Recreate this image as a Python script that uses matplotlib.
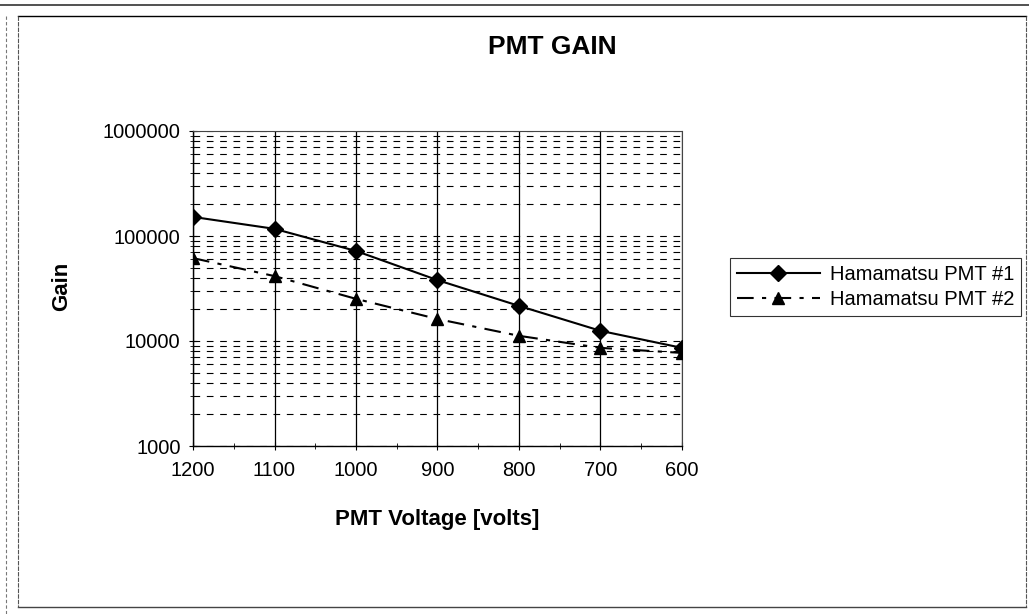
import matplotlib
matplotlib.use("Agg")
import matplotlib.pyplot as plt
from matplotlib.lines import Line2D
from matplotlib.ticker import FixedLocator, LogLocator, NullFormatter, FixedFormatter

plt.rcParams['font.family'] = ['Liberation Sans', 'DejaVu Sans']

# PMT high voltage settings and measured gain
voltage = [1200, 1100, 1000, 900, 800, 700, 600]
gain_pmt1 = [152000, 117000, 72000, 38000, 21600, 12500, 8600]
gain_pmt2 = [61600, 41500, 25200, 16200, 11200, 8600, 7700]
series_labels = ["Hamamatsu PMT #1", "Hamamatsu PMT #2"]
y_ticks = [1000, 10000, 100000, 1000000]
y_tick_labels = ["1000", "10000", "100000", "1000000"]

W, H = 1029, 614
fig = plt.figure(figsize=(W / 100, H / 100), dpi=100)


def fx(x):
    return x / W


def fy(y):
    return 1 - y / H


# outer page frame
fig.add_artist(Line2D([fx(0), fx(1029)], [fy(5), fy(5)], color='#333333', lw=1.2))
fig.add_artist(Line2D([fx(18), fx(1026)], [fy(16), fy(16)], color='black', lw=1.0))
fig.add_artist(Line2D([fx(1026), fx(1026)], [fy(16), fy(607)], color='#555555', lw=0.8, ls=(0, (4, 1))))
fig.add_artist(Line2D([fx(18), fx(1026)], [fy(607), fy(607)], color='#444444', lw=1.0))
fig.add_artist(Line2D([fx(18), fx(18)], [fy(16), fy(607)], color='#555555', lw=0.8, ls=(0, (4, 1))))
fig.add_artist(Line2D([fx(6), fx(6)], [fy(16), fy(614)], color='#777777', lw=0.8, ls=(0, (3, 2))))

ax = fig.add_axes([193 / W, 1 - 446 / H, 489 / W, 315 / H])
ax.set_yscale('log')
ax.set_xlim(1200, 600)
ax.set_ylim(1000, 1000000)

ax.plot(voltage, gain_pmt1, color='black', lw=1.5, marker='D', markersize=8,
        label=series_labels[0], zorder=5)
ax.plot(voltage, gain_pmt2, color='black', lw=1.5, ls=(0, (8, 4, 2, 4)), marker='^',
        markersize=9, label=series_labels[1], zorder=5)

# grid: solid verticals at each 100 V, dashed horizontals on every log step
ax.xaxis.set_major_locator(FixedLocator(voltage))
ax.xaxis.set_minor_locator(FixedLocator([1150, 1050, 950, 850, 750, 650]))
ax.yaxis.set_major_locator(FixedLocator(y_ticks))
ax.yaxis.set_major_formatter(FixedFormatter(y_tick_labels))
ax.yaxis.set_minor_locator(LogLocator(base=10, subs=range(2, 10)))
ax.yaxis.set_minor_formatter(NullFormatter())
ax.grid(True, axis='x', which='major', color='black', lw=0.9, ls='-')
ax.grid(True, axis='y', which='both', color='black', lw=0.8, ls=(0, (6, 6)))
ax.set_axisbelow(True)

for s in ['top', 'right']:
    ax.spines[s].set_color('#444444')
    ax.spines[s].set_linestyle((0, (2, 1)))
    ax.spines[s].set_linewidth(0.8)
for s in ['left', 'bottom']:
    ax.spines[s].set_linewidth(1.0)

ax.tick_params(axis='both', which='major', direction='inout', length=6, labelsize=14.5)
ax.tick_params(axis='x', which='major', pad=8)
ax.tick_params(axis='y', which='major', pad=6)
ax.tick_params(axis='both', which='minor', direction='inout', length=4)

fig.text(552 / W, 1 - 47 / H, "PMT GAIN", ha='center', va='center', fontsize=19, fontweight='bold')
fig.text(62 / W, 1 - 286 / H, "Gain", ha='center', va='center', rotation=90, fontsize=16,
         fontweight='bold')
fig.text(437 / W, 1 - 519 / H, "PMT Voltage [volts]", ha='center', va='center', fontsize=16,
         fontweight='bold')

leg = fig.legend(loc='upper left', bbox_to_anchor=(730 / W, 1 - 258 / H), fontsize=14.5,
                 frameon=True, fancybox=False, edgecolor='black', handlelength=4.1,
                 handletextpad=0.5, borderpad=0.35, labelspacing=0.3, borderaxespad=0)
leg.get_frame().set_linewidth(0.8)

fig.savefig("out.png", dpi=100)
